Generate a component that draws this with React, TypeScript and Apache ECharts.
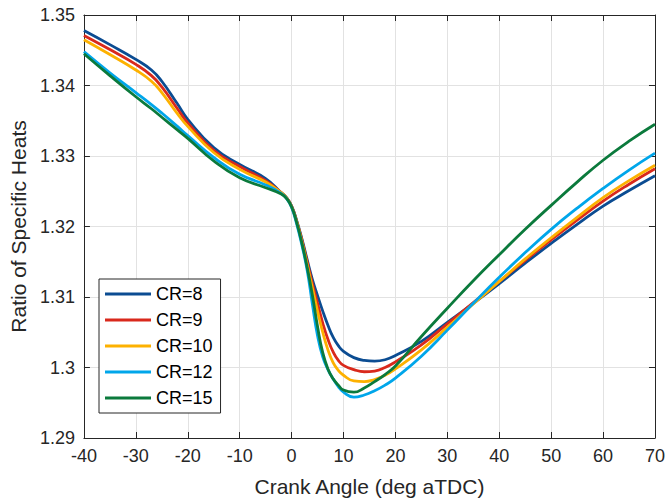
import React, { useEffect, useRef } from "react";
import * as echarts from "echarts";

const crankAngles = [-40, -35, -30, -27, -25, -22, -20, -15, -10, -5, -2, -1, 0, 1, 2, 3, 4, 5, 6, 7, 8, 9, 10, 12, 14, 16, 18, 20, 25, 30, 35, 40, 45, 50, 55, 60, 65, 70];

const cr8 = [1.3478, 1.3458, 1.3437, 1.3422, 1.3406, 1.3374, 1.3352, 1.3312, 1.3288, 1.3268, 1.3248, 1.3241, 1.3229, 1.3208, 1.3182, 1.3153, 1.3125, 1.3102, 1.3080, 1.3060, 1.3043, 1.3031, 1.3023, 1.3014, 1.3010, 1.3009, 1.3011, 1.3017, 1.3037, 1.3064, 1.3091, 1.3119, 1.3148, 1.3176, 1.3203, 1.3229, 1.3251, 1.3272];
const cr9 = [1.3471, 1.3451, 1.3430, 1.3414, 1.3398, 1.3367, 1.3347, 1.3308, 1.3285, 1.3265, 1.3248, 1.3241, 1.3229, 1.3207, 1.3180, 1.3150, 1.3119, 1.3091, 1.3063, 1.3040, 1.3022, 1.3010, 1.3003, 1.2997, 1.2994, 1.2995, 1.3000, 1.3008, 1.3032, 1.3062, 1.3092, 1.3122, 1.3152, 1.3181, 1.3209, 1.3236, 1.3260, 1.3282];
const cr10 = [1.3465, 1.3444, 1.3422, 1.3406, 1.3390, 1.3360, 1.3342, 1.3305, 1.3281, 1.3263, 1.3248, 1.3241, 1.3228, 1.3206, 1.3178, 1.3146, 1.3113, 1.3080, 1.3050, 1.3025, 1.3007, 1.2996, 1.2989, 1.2981, 1.2980, 1.2983, 1.2989, 1.2998, 1.3025, 1.3057, 1.3090, 1.3122, 1.3154, 1.3184, 1.3213, 1.3241, 1.3265, 1.3287];
const cr12 = [1.3448, 1.3418, 1.3390, 1.3373, 1.3361, 1.3342, 1.3329, 1.3298, 1.3274, 1.3259, 1.3247, 1.3240, 1.3227, 1.3203, 1.3173, 1.3138, 1.3090, 1.3045, 1.3015, 1.2997, 1.2984, 1.2973, 1.2965, 1.2958, 1.2961, 1.2967, 1.2975, 1.2985, 1.3016, 1.3053, 1.3091, 1.3128, 1.3163, 1.3196, 1.3226, 1.3254, 1.3280, 1.3304];
const cr15 = [1.3445, 1.3414, 1.3384, 1.3367, 1.3355, 1.3337, 1.3325, 1.3293, 1.3269, 1.3255, 1.3246, 1.3240, 1.3228, 1.3205, 1.3176, 1.3142, 1.3103, 1.3058, 1.3021, 1.2998, 1.2984, 1.2975, 1.2968, 1.2965, 1.2971, 1.2980, 1.2990, 1.3002, 1.3044, 1.3084, 1.3123, 1.3160, 1.3196, 1.3230, 1.3263, 1.3294, 1.3321, 1.3345];

const seriesNames = ["CR=8", "CR=9", "CR=10", "CR=12", "CR=15"];
const seriesValues = [cr8, cr9, cr10, cr12, cr15];
const seriesColors = ["#0b4c92", "#d9291c", "#fdb100", "#00a6ea", "#0b7a3c"];

const FONT = "Liberation Sans, Arial, Helvetica, sans-serif";
const TXT = "#262626";

export default function App() {
  const ref = useRef<HTMLDivElement>(null);
  useEffect(() => {
    document.body.style.margin = "0";
    const chart = echarts.init(ref.current!, null, { renderer: "svg" });
    const axisLine = { show: true, onZero: false, lineStyle: { color: TXT, width: 1 } };
    const tick = { show: true, inside: true, length: 6, lineStyle: { color: TXT, width: 1 } };
    const grid = { show: true, lineStyle: { color: "#e2e2e2", width: 1 } };
    chart.setOption({
      animation: false,
      backgroundColor: "#ffffff",
      textStyle: { fontFamily: FONT },
      grid: { left: 81, right: 11, top: 15, bottom: 62.5, containLabel: false },
      legend: {
        orient: "vertical",
        left: 99,
        top: 279,
        padding: [6, 8, 6, 6],
        itemGap: 8,
        itemWidth: 46,
        itemHeight: 3,
        icon: "rect",
        borderColor: TXT,
        borderWidth: 1,
        backgroundColor: "#ffffff",
        textStyle: { fontSize: 18, color: "#000", fontFamily: FONT, lineHeight: 18 },
        data: seriesNames,
      },
      xAxis: [
        {
          type: "value",
          min: -40,
          max: 70,
          interval: 10,
          name: "Crank Angle (deg aTDC)",
          nameLocation: "middle",
          nameGap: 38,
          nameTextStyle: { fontSize: 21, color: TXT, fontFamily: FONT },
          axisLine,
          axisTick: tick,
          axisLabel: { fontSize: 18, color: TXT, margin: 9, fontFamily: FONT },
          splitLine: grid,
        },
        {
          type: "value",
          position: "top",
          min: -40,
          max: 70,
          interval: 10,
          axisLine,
          axisTick: tick,
          axisLabel: { show: false },
          splitLine: { show: false },
        },
      ],
      yAxis: [
        {
          type: "value",
          min: 1.29,
          max: 1.35,
          interval: 0.01,
          name: "Ratio of Specific Heats",
          nameLocation: "middle",
          nameGap: 49,
          nameTextStyle: { fontSize: 21, color: TXT, fontFamily: FONT },
          axisLine,
          axisTick: tick,
          axisLabel: {
            fontSize: 18,
            color: TXT,
            margin: 9,
            fontFamily: FONT,
            formatter: (v: number) => String(parseFloat(v.toFixed(2))),
          },
          splitLine: grid,
        },
        {
          type: "value",
          position: "right",
          min: 1.29,
          max: 1.35,
          interval: 0.01,
          axisLine,
          axisTick: tick,
          axisLabel: { show: false },
          splitLine: { show: false },
        },
      ],
      series: seriesNames.map((name, i) => ({
        name,
        type: "line",
        xAxisIndex: 0,
        yAxisIndex: 0,
        data: crankAngles.map((x, j) => [x, seriesValues[i][j]]),
        smooth: 0.5,
        showSymbol: false,
        symbol: "none",
        color: seriesColors[i],
        lineStyle: { color: seriesColors[i], width: 2.8 },
        itemStyle: { color: seriesColors[i] },
      })),
    });
    return () => chart.dispose();
  }, []);
  return (
    <div
      ref={ref}
      style={{ position: "absolute", left: 0, top: 0, width: 668, height: 502 }}
    />
  );
}
